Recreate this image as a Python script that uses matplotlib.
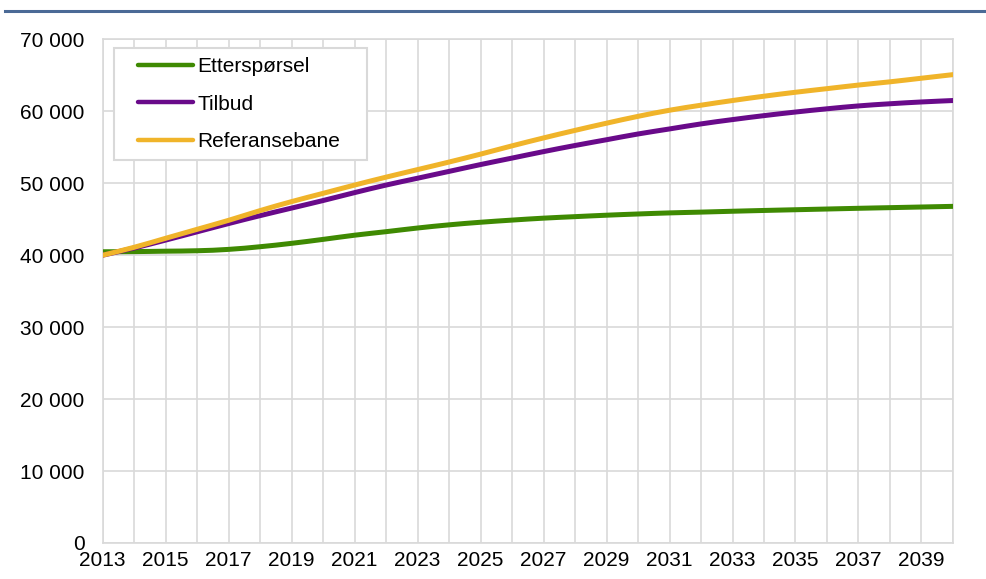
import matplotlib
matplotlib.use("Agg")
import numpy as np
import matplotlib.pyplot as plt
from matplotlib.ticker import FuncFormatter
from matplotlib.path import Path
from matplotlib.patches import PathPatch
from matplotlib.lines import Line2D

years = list(range(2013, 2041))
etterspoersel = [40480, 40500, 40560, 40620, 40810, 41180, 41650, 42200, 42780, 43270,
                 43780, 44220, 44580, 44880, 45150, 45360, 45560, 45730, 45880, 45990,
                 46110, 46220, 46320, 46420, 46520, 46610, 46700, 46790]
tilbud = [40000, 41000, 42100, 43250, 44400, 45500, 46550, 47600, 48700, 49750,
          50700, 51650, 52600, 53500, 54400, 55250, 56050, 56850, 57550, 58250,
          58850, 59400, 59900, 60350, 60750, 61050, 61300, 61500]
referansebane = [40000, 41100, 42350, 43600, 44850, 46200, 47450, 48600, 49750, 50850,
                 51900, 52950, 54050, 55200, 56300, 57350, 58350, 59300, 60150, 60850,
                 61500, 62100, 62650, 63150, 63650, 64100, 64600, 65100]
series_names = ["Etterspørsel", "Tilbud", "Referansebane"]
colors = ["#3F8A02", "#690A8A", "#F0B42A"]
y_ticks = [0, 10000, 20000, 30000, 40000, 50000, 60000, 70000]
x_labels = list(range(2013, 2040, 2))

plt.rcParams['font.family'] = ['Liberation Sans', 'DejaVu Sans']

fig = plt.figure(figsize=(9.87, 5.79), dpi=100)
ax = fig.add_axes([0.104, 0.0622, 0.8615, 0.8698])


def smooth_path(xs, ys):
    n = len(xs)
    verts = [(xs[0], ys[0])]
    codes = [Path.MOVETO]
    for i in range(n - 1):
        x0, y0 = xs[max(i - 1, 0)], ys[max(i - 1, 0)]
        x1, y1 = xs[i], ys[i]
        x2, y2 = xs[i + 1], ys[i + 1]
        x3, y3 = xs[min(i + 2, n - 1)], ys[min(i + 2, n - 1)]
        c1 = (x1 + (x2 - x0) / 6.0, y1 + (y2 - y0) / 6.0)
        c2 = (x2 - (x3 - x1) / 6.0, y2 - (y3 - y1) / 6.0)
        verts += [c1, c2, (x2, y2)]
        codes += [Path.CURVE4] * 3
    return Path(verts, codes)


handles = []
for vals, name, c in zip([etterspoersel, tilbud, referansebane], series_names, colors):
    patch = PathPatch(smooth_path(years, vals), fill=False, edgecolor=c, lw=3.6,
                      capstyle='round', joinstyle='round', zorder=3, transform=ax.transData)
    ax.add_patch(patch)
    handles.append(Line2D([], [], color=c, lw=3.2, solid_capstyle='round', label=name))

ax.set_xlim(2013, 2040)
ax.set_ylim(0, 70000)
ax.set_yticks(y_ticks)
ax.yaxis.set_major_formatter(FuncFormatter(lambda v, p: f"{int(v):,}".replace(",", " ")))
ax.set_xticks(years)
ax.set_xticklabels([str(y) if y in x_labels else "" for y in years])

grid_c = "#D9D9D9"
ax.grid(True, color=grid_c, lw=1.2, zorder=0)
for s in ax.spines.values():
    s.set_color(grid_c)
    s.set_linewidth(1.2)
ax.tick_params(axis='both', length=0, labelsize=15, colors='black')
ax.tick_params(axis='y', pad=13)
ax.tick_params(axis='x', pad=6)

leg = ax.legend(handles=handles, loc='upper left',
                bbox_to_anchor=(0.0133, 0.9827, 0.2975, 0.0), mode='expand', fontsize=15,
                frameon=True, fancybox=False, edgecolor=grid_c, handlelength=3.38,
                handletextpad=0.2, labelspacing=0.9, borderpad=0.42, borderaxespad=0.0)
leg.get_frame().set_linewidth(1.5)
leg.get_frame().set_facecolor('white')
leg.get_frame().set_alpha(1)
for ln in leg.get_lines():
    xd = np.asarray(ln.get_xdata(), dtype=float)
    start = xd[0] + 0.22 * (xd[-1] - xd[0])
    ln.set_xdata(np.linspace(start, xd[-1], len(xd)))

# top rule under cut-off title
fig.add_artist(plt.Line2D([5/987, 1.0], [1 - 10.5/579, 1 - 10.5/579], color="#4B6A96", lw=2.2,
                          transform=fig.transFigure))

fig.savefig("out.png", dpi=100)
